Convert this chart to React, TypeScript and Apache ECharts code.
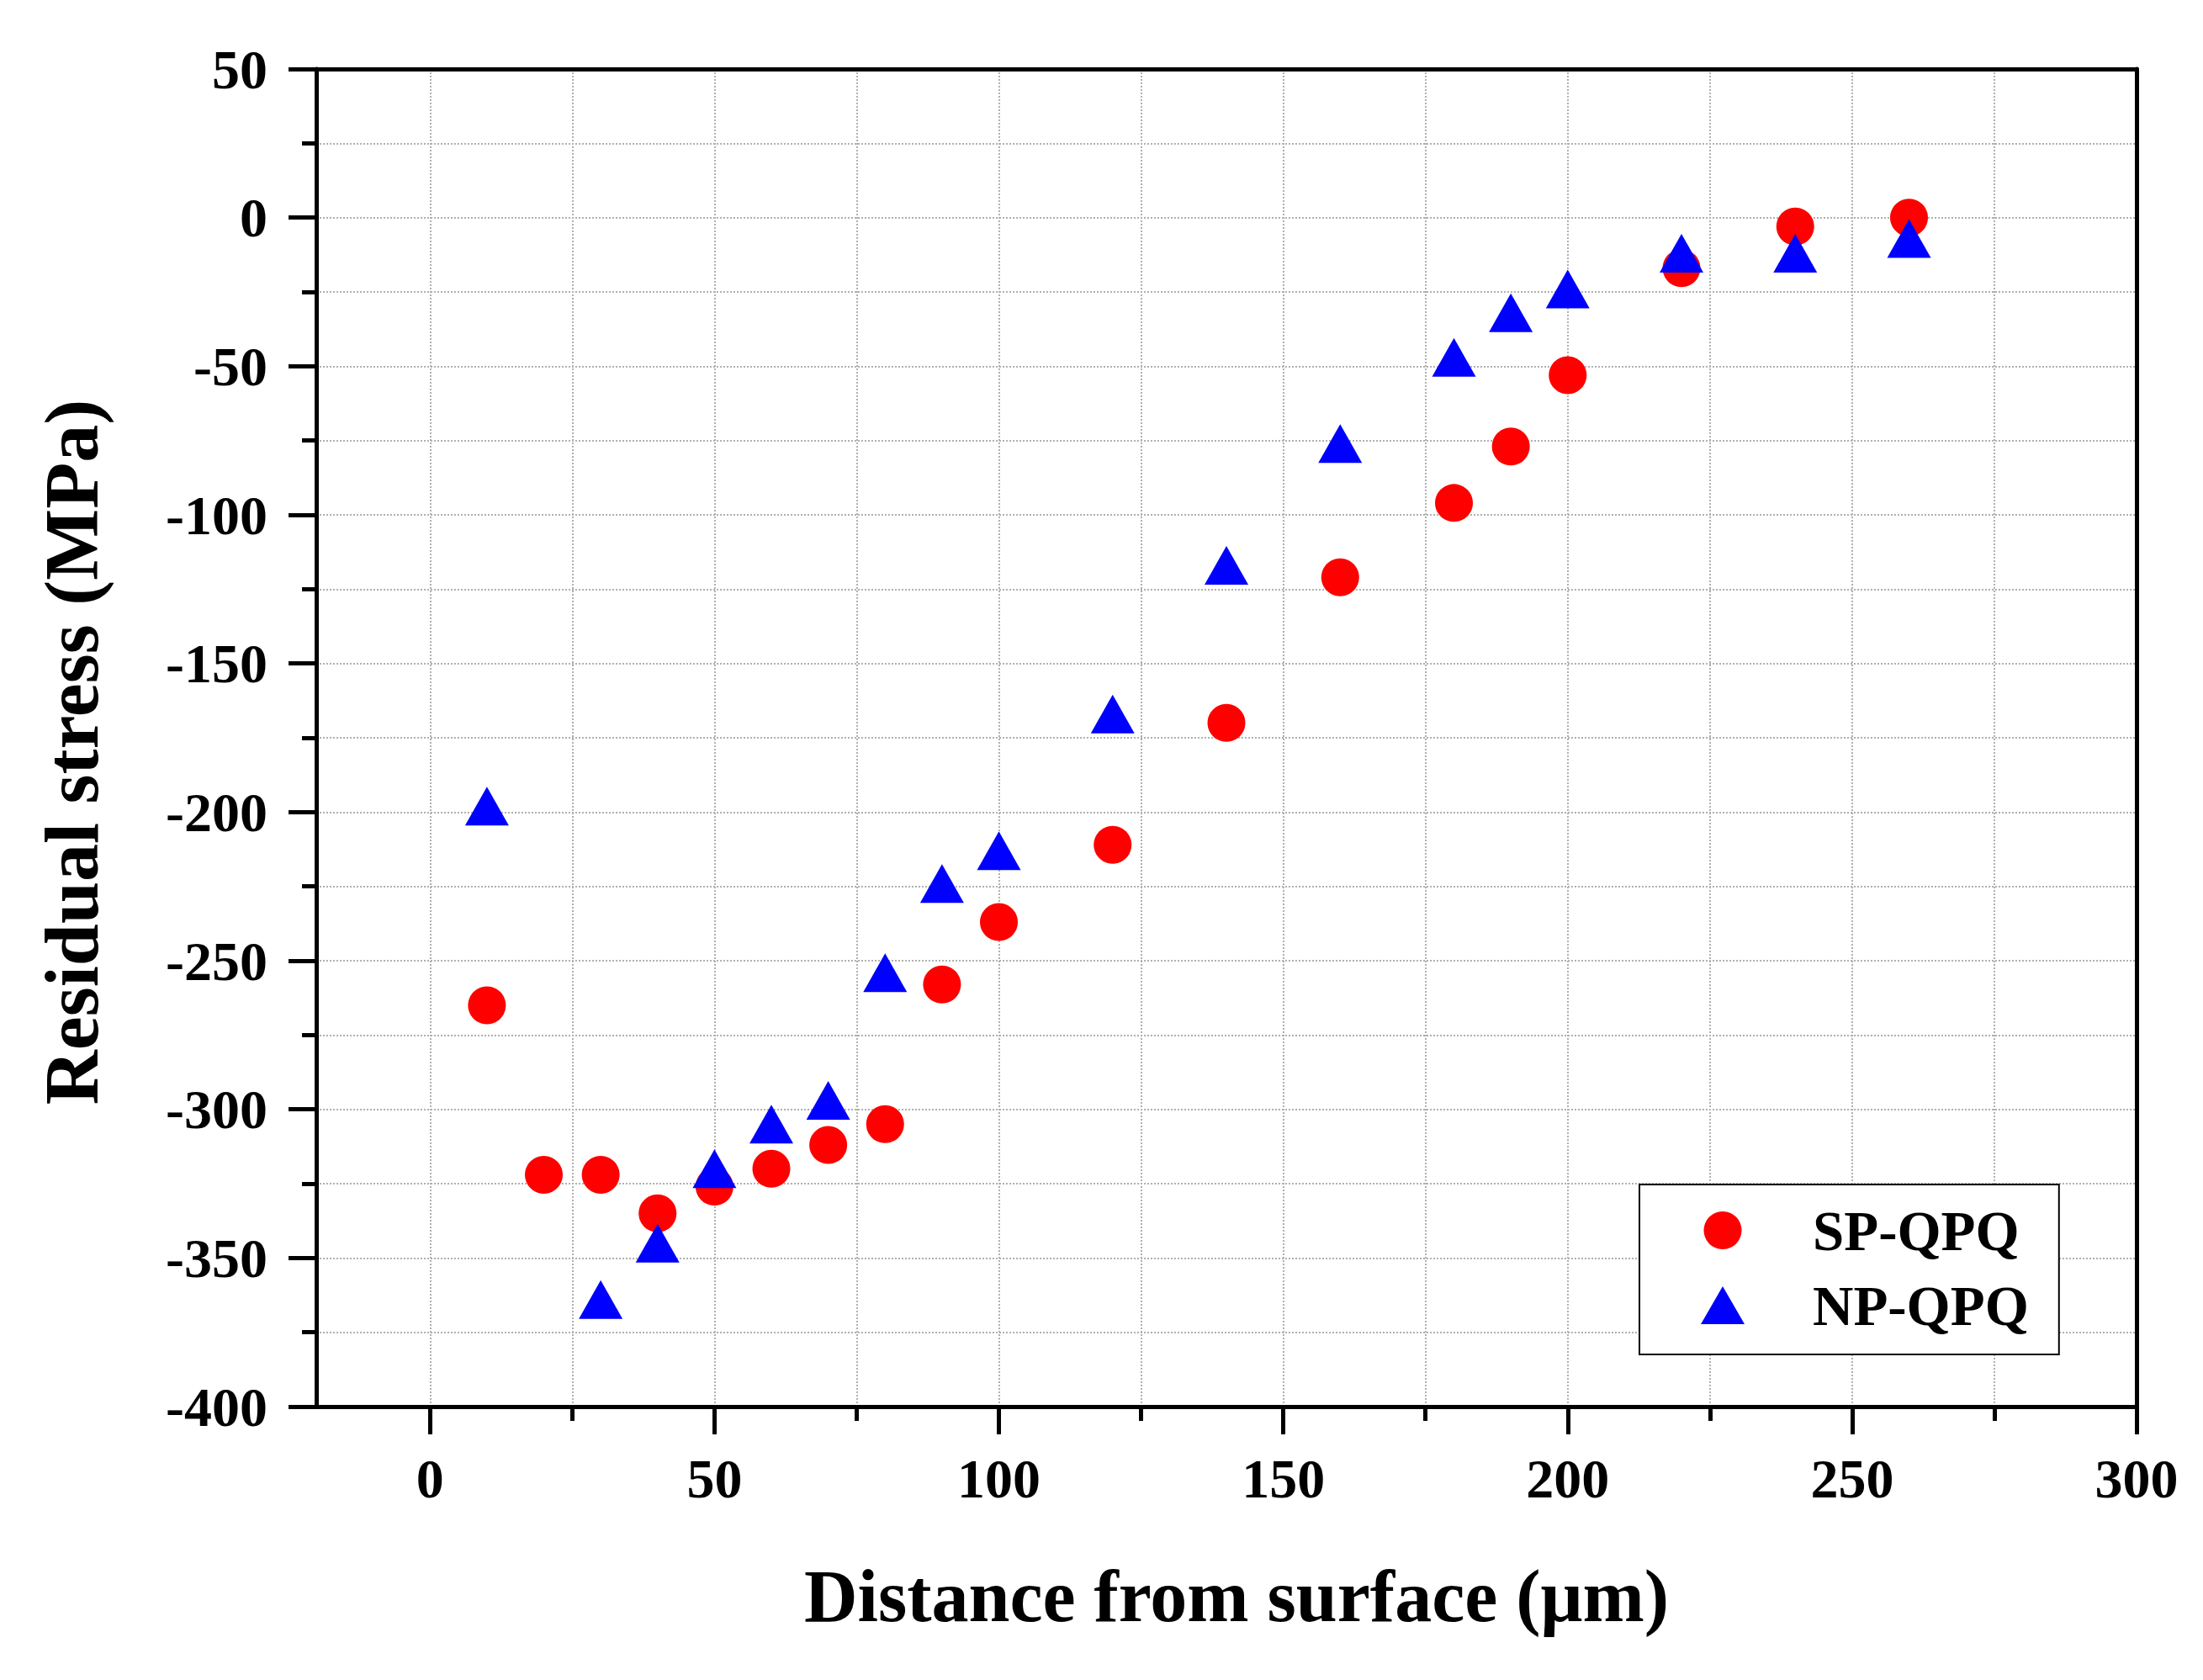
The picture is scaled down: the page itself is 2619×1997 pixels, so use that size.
import { useEffect, useRef } from 'react'
import * as echarts from 'echarts'

const spDepth = [10, 20, 30, 40, 50, 60, 70, 80, 90, 100, 120, 140, 160, 180, 190, 200, 220, 240, 260]
const spStress = [-265, -322, -322, -335, -326, -320, -312, -305, -258, -237, -211, -170, -121, -96, -77, -53, -17, -3, 0]
const npDepth = [10, 30, 40, 50, 60, 70, 80, 90, 100, 120, 140, 160, 180, 190, 200, 220, 240, 260]
const npStress = [-198, -364, -345, -320, -305, -297, -254, -224, -213, -167, -117, -76, -47, -32, -24, -12, -12, -7]
const xTicks = [0, 50, 100, 150, 200, 250, 300]

const font = "'Liberation Serif', 'Times New Roman', serif"

export default function App() {
  const chartRef = useRef<HTMLDivElement>(null)

  useEffect(() => {
    if (!chartRef.current) return
    const chart = echarts.init(chartRef.current, null, { renderer: 'svg' })

    const grid = { color: '#b0b0b0', width: 2, type: 'dotted' as const }
    const label = { color: '#000', fontFamily: font, fontWeight: 'bold' as const, fontSize: 66 }

    chart.setOption({
      animation: false,
      backgroundColor: '#fff',
      grid: { left: 376, right: 79, top: 82, bottom: 325 },
      legend: {
        left: 1949,
        top: 1408,
        orient: 'vertical',
        padding: [21, 36, 25, 73],
        itemWidth: 52,
        itemHeight: 45,
        itemGap: 22,
        borderColor: '#000',
        borderWidth: 2,
        backgroundColor: '#fff',
        textStyle: { ...label, fontSize: 67, padding: [0, 0, 0, 76] },
        data: ['SP-QPQ', 'NP-QPQ']
      },
      xAxis: [
        {
          type: 'value',
          min: -20,
          max: 300,
          splitNumber: 7,
          name: 'Distance from surface (μm)',
          nameLocation: 'middle',
          nameGap: 181,
          nameTextStyle: { ...label, fontSize: 88, padding: [0, 0, 0, 24] },
          axisLine: { onZero: false, lineStyle: { color: '#000', width: 5 } },
          axisTick: { show: true, length: 33, lineStyle: { color: '#000', width: 5 }, customValues: xTicks },
          minorTick: { show: true, splitNumber: 2, length: 17, lineStyle: { color: '#000', width: 5 } },
          axisLabel: { ...label, margin: 52, customValues: xTicks },
          splitLine: { show: true, lineStyle: grid },
          minorSplitLine: { show: true, lineStyle: grid }
        },
        {
          type: 'value',
          position: 'top',
          min: -20,
          max: 300,
          axisLine: { show: true, onZero: false, lineStyle: { color: '#000', width: 5 } },
          axisTick: { show: false },
          axisLabel: { show: false },
          splitLine: { show: false }
        }
      ],
      yAxis: [
        {
          type: 'value',
          min: -400,
          max: 50,
          interval: 50,
          name: 'Residual stress (MPa)',
          nameLocation: 'middle',
          nameRotate: 90,
          nameGap: 246,
          nameTextStyle: { ...label, fontSize: 90, padding: [0, 34, 0, 0] },
          axisLine: { show: true, onZero: false, lineStyle: { color: '#000', width: 5 } },
          axisTick: { show: true, length: 33, lineStyle: { color: '#000', width: 5 } },
          minorTick: { show: true, splitNumber: 2, length: 17, lineStyle: { color: '#000', width: 5 } },
          axisLabel: { ...label, margin: 58 },
          splitLine: { show: true, lineStyle: grid },
          minorSplitLine: { show: true, lineStyle: grid }
        },
        {
          type: 'value',
          position: 'right',
          min: -400,
          max: 50,
          interval: 50,
          axisLine: { show: true, onZero: false, lineStyle: { color: '#000', width: 5 } },
          axisTick: { show: false },
          axisLabel: { show: false },
          splitLine: { show: false }
        }
      ],
      series: [
        {
          name: 'SP-QPQ',
          type: 'scatter',
          symbol: 'circle',
          symbolSize: 45,
          itemStyle: { color: '#ff0000', opacity: 1 },
          data: spDepth.map((x, i) => [x, spStress[i]])
        },
        {
          name: 'NP-QPQ',
          type: 'scatter',
          symbol: 'triangle',
          symbolSize: [52, 46],
          itemStyle: { color: '#0000ff', opacity: 1 },
          data: npDepth.map((x, i) => [x, npStress[i]])
        }
      ]
    })

    return () => {
      chart.dispose()
    }
  }, [])

  return (
    <div
      ref={chartRef}
      style={{ position: 'fixed', left: 0, top: 0, width: '2619px', height: '1997px' }}
    />
  )
}
